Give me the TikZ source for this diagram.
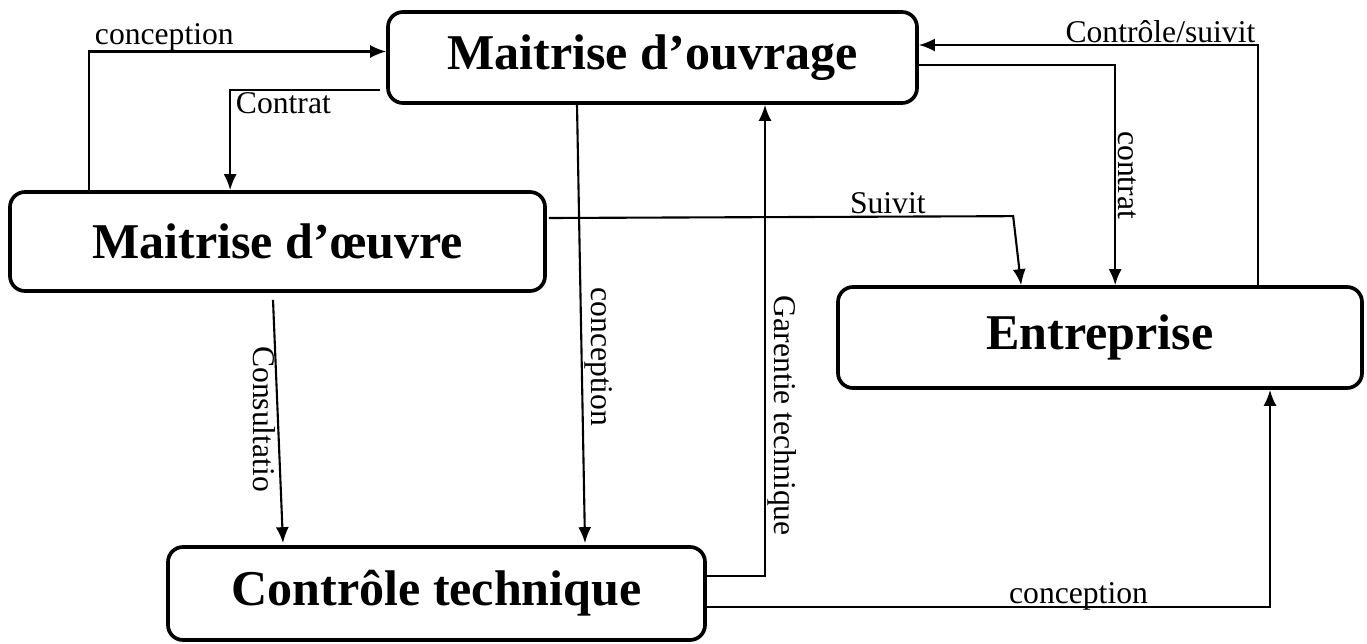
\documentclass[tikz,border=0pt]{standalone}
\usepackage{fontspec}
\setmainfont{Liberation Serif}
\usepackage{tikz}
\usetikzlibrary{calc,arrows.meta}
\tikzset{
    acteur/.style={rectangle, rounded corners=0.3cm, draw, line width=2.1pt,
        font=\fontsize{28.5}{34}\selectfont\bfseries},
    lien/.style={line width=1.2pt, -{Latex[length=0.32cm,width=0.26cm]}},
    etiq/.style={font=\fontsize{18}{22}\selectfont, inner sep=1pt}
}

\begin{document}
\begin{tikzpicture}
    \useasboundingbox (0cm, 0cm) rectangle (27.34cm, 12.86cm);

    \node (mo) [acteur, minimum width=10.58cm, minimum height=1.82cm] at (13.05cm, 11.71cm) {Maitrise d’ouvrage};
    \node (moe) [acteur, minimum width=10.7cm, minimum height=1.98cm] at (5.55cm, 8.03cm) {Maitrise d’œuvre};
    \node (ent) [acteur, minimum width=10.48cm, minimum height=2.02cm] at (22.0cm, 6.11cm) {Entreprise};
    \node (ct) [acteur, minimum width=10.74cm, minimum height=1.86cm] at (8.73cm, 0.99cm) {Contrôle technique};

    % liens autour de la maitrise d'ouvrage
    \draw [lien] ($(moe.north west)+(1.62cm,0)$) |- ($(mo.west)+(0,0.12cm)$)
        node [etiq, pos=0.5, anchor=base west, xshift=0.06cm, yshift=0.15cm] {conception};
    \draw [lien] ($(mo.west)+(-0.12cm,-0.65cm)$) -| ($(moe.north west)+(4.44cm,0)$)
        node [etiq, pos=0.5, anchor=north west, xshift=0.06cm] {Contrat};
    \draw [lien] ($(mo.south)+(-1.51cm,0)$) -- ($(ct.north)+(2.97cm,0.04cm)$)
        node [etiq, pos=0.575, rotate=-90, anchor=south] {conception};
    \draw [lien] ($(mo.east)+(0,-0.15cm)$) -| ($(ent.north west)+(5.58cm,0)$)
        node [etiq, pos=0.75, rotate=-90, anchor=south] {contrat};
    \draw [lien] ($(ent.north west)+(8.44cm,0)$) |- ($(mo.east)+(0,0.25cm)$)
        node [etiq, pos=0.5, anchor=base east, yshift=0.05cm] {Contrôle/suivit};

    % liens vers l'entreprise et le controle technique
    \draw [lien] ($(moe.east)+(0.04cm,0.47cm)$)
        -- node [etiq, pos=0.73, above] {Suivit} ($(ent.north west)+(3.54cm,1.38cm)$)
        -- ($(ent.north west)+(3.7cm,0)$);
    \draw [lien] ($(moe.south)+(-0.09cm,-0.14cm)$) -- ($(ct.north)+(-3.07cm,0.04cm)$)
        node [etiq, pos=0.49, rotate=-90, anchor=north] {Consultatio};
    \draw [lien] ($(ct.east)+(0,0.35cm)$) -| ($(mo.south)+(2.25cm,0)$)
        node [etiq, pos=0.67, rotate=-90, anchor=south] {Garentie technique};
    \draw [lien] ($(ct.east)+(0,-0.27cm)$) -| ($(ent.south)+(3.4cm,0)$)
        node [etiq, pos=0.33, anchor=base, yshift=0.08cm] {conception};
\end{tikzpicture}
\end{document}
